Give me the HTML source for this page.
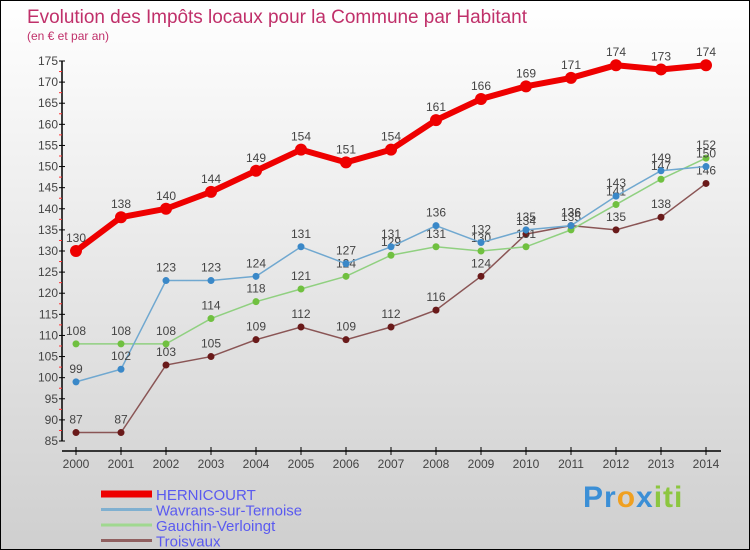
<!DOCTYPE html>
<html><head><meta charset="utf-8"><style>
body{margin:0}
#c{width:750px;height:550px;position:relative;box-sizing:border-box;border:1px solid #000;background:linear-gradient(#ffffff,#cfcfcf);font-family:"Liberation Sans",sans-serif;overflow:hidden}
svg text{font-family:"Liberation Sans",sans-serif}
</style></head><body>
<div id="c">
<svg id="s" width="750" height="550">
<text x="26" y="22" font-size="19" fill="#c0306a" textLength="500">Evolution des Impôts locaux pour la Commune par Habitant</text>
<text x="26" y="39" font-size="12" fill="#c0306a">(en € et par an)</text>
<text x="150" y="506" font-size="30" font-weight="bold" fill="#f39c12" transform="translate(432,0)" style="letter-spacing:1px"><tspan fill="#3b8fd6">Pr</tspan><tspan fill="#f0a020">o</tspan><tspan fill="#3b8fd6">x</tspan><tspan fill="#8cc63f">iti</tspan></text>
</svg></div>
<script>
const years=[2000,2001,2002,2003,2004,2005,2006,2007,2008,2009,2010,2011,2012,2013,2014];
const hernicourt=[130,138,140,144,149,154,151,154,161,166,169,171,174,173,174];
const wavrans=[99,102,123,123,124,131,127,131,136,132,135,136,143,149,150];
const gauchin=[108,108,108,114,118,121,124,129,131,130,131,135,141,147,152];
const troisvaux=[87,87,103,105,109,112,109,112,116,124,134,136,135,138,146];
const yTicks=[85,90,95,100,105,110,115,120,125,130,135,140,145,150,155,160,165,170,175];
const NS='http://www.w3.org/2000/svg';
const s=document.getElementById('s');
const X=i=>75+i*45;
const Y=v=>440-(v-85)*(380/90);
function el(t,a,p){const e=document.createElementNS(NS,t);for(const k in a)e.setAttribute(k,a[k]);(p||s).appendChild(e);return e;}
const ya=el('line',{x1:61,y1:60,x2:61,y2:440,stroke:'#000','stroke-width':1.5});


const xa=el('line',{x1:61,y1:450,x2:720,y2:450,stroke:'#000','stroke-width':1.5});


yTicks.forEach(v=>{
 el('line',{x1:58,y1:Y(v),x2:64,y2:Y(v),stroke:'#000'});
 if(v<175)el('line',{x1:58,y1:Y(v+2.5),x2:61,y2:Y(v+2.5),stroke:'#f33'});
 const t=el('text',{x:57,y:Y(v)+4,'font-size':12,fill:'#444','text-anchor':'end'});
 t.textContent=v;
 
 
});
years.forEach((y,i)=>{
 el('line',{x1:X(i),y1:446,x2:X(i),y2:454,stroke:'#000'});
 const t=el('text',{x:X(i),y:467,'font-size':12,fill:'#444','text-anchor':'middle'});
 t.textContent=y;
 
 
});
function series(name,data,color,dot,w,r){
 const g=el('g',{});
 
 
 el('polyline',{points:data.map((v,i)=>X(i)+','+Y(v)).join(' '),fill:'none',stroke:color,'stroke-width':w},g);
 data.forEach((v,i)=>{
  const c=el('circle',{cx:X(i),cy:Y(v),r:r,fill:dot},g);
  
  
  const t=el('text',{x:X(i),y:Y(v)-9,'font-size':12,fill:'#444','text-anchor':'middle'},g);
  t.textContent=v;
  
  
 });
}
series('troisvaux',troisvaux,'#8a5555','#6a1a1a',1.5,3.5);
series('gauchin',gauchin,'#90d080','#70c040',1.5,3.5);
series('wavrans',wavrans,'#70a8d0','#3a88c8',1.5,3.5);
series('hernicourt',hernicourt,'#ee0000','#ee0000',6,6);
const leg=[['HERNICOURT','#ee0000',7],['Wavrans-sur-Ternoise','#80b0d0',3],['Gauchin-Verloingt','#a0d890',3],['Troisvaux','#906060',3]];
leg.forEach((l,i)=>{
 const y=493+i*15.5;
 const g=el('g',{});
 
 
 el('line',{x1:100,y1:y,x2:151,y2:y,stroke:l[1],'stroke-width':l[2]},g);
 const t=el('text',{x:155,y:y+6,'font-size':15,fill:'#5a5af0'},g);
 t.textContent=l[0];
});
</script>
</body></html>
